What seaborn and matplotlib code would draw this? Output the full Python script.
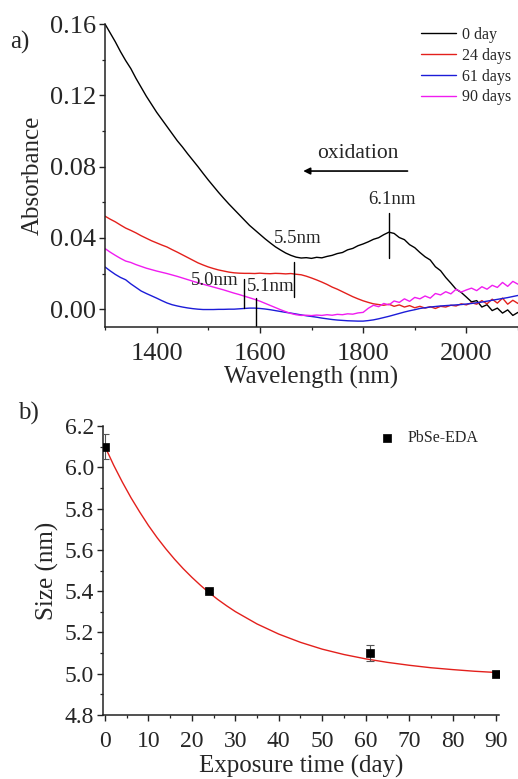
import numpy as np
import pandas as pd
import matplotlib
matplotlib.use("Agg")
import matplotlib.pyplot as plt
from matplotlib.ticker import MultipleLocator
import seaborn as sns

# absorbance spectra, one value every 10 nm from 1300 to 2100 nm
wavelength = list(range(1300, 2101, 10))

abs_0day = [
    .1600, .1550, .1500, .1445, .1395, .1350, .1295, .1245, .1195, .1150,
    .1105, .1065, .1025, .0985, .0945, .0910, .0872, .0836, .0800, .0762,
    .0725, .0690, .0655, .0622, .0590, .0560, .0530, .0500, .0470, .0445,
    .0420, .0395, .0372, .0350, .0332, .0315, .0302, .0292, .0287, .0289,
    .0285, .0291, .0288, .0296, .0302, .0312, .0318, .0333, .0341, .0356,
    .0366, .0378, .0392, .0401, .0418, .0432, .0425, .0402, .0390, .0362,
    .0345, .0318, .0294, .0276, .0238, .0216, .0178, .0146, .0112, .0094,
    .0068, .0041, .0048, .0012, .0025, -.0008, .0006, -.0022, -.0004, -.0035,
    -.0018]
abs_24days = [
    .0522, .0505, .0490, .0472, .0455, .0442, .0428, .0412, .0398, .0384,
    .0372, .0360, .0349, .0334, .0320, .0305, .0290, .0275, .0260, .0248,
    .0237, .0228, .0220, .0214, .0208, .0204, .0202, .0201, .0201, .0200,
    .0202, .0200, .0199, .0201, .0200, .0198, .0200, .0196, .0193, .0185,
    .0175, .0164, .0152, .0139, .0124, .0112, .0098, .0084, .0070, .0058,
    .0047, .0038, .0030, .0026, .0022, .0028, .0016, .0024, .0012, .0020,
    .0008, .0016, .0006, .0014, .0004, .0016, .0012, .0022, .0018, .0030,
    .0024, .0036, .0028, .0048, .0030, .0056, .0034, .0062, .0028, .0050,
    .0032]
abs_61days = [
    .0237, .0215, .0195, .0178, .0165, .0142, .0122, .0102, .0088, .0075,
    .0062, .0048, .0035, .0025, .0018, .0012, .0007, .0003, .0000, -.0002,
    -.0002, -.0002, -.0001, -.0001, .0000, .0000, .0002, .0004, .0006, .0006,
    .0004, .0001, -.0003, -.0008, -.0013, -.0018, -.0022, -.0027, -.0032, -.0037,
    -.0041, -.0045, -.0050, -.0054, -.0058, -.0061, -.0063, -.0065, -.0066, -.0067,
    -.0067, -.0064, -.0060, -.0054, -.0047, -.0040, -.0032, -.0024, -.0016, -.0009,
    -.0003, .0004, .0008, .0012, .0015, .0018, .0020, .0022, .0024, .0026,
    .0029, .0032, .0036, .0040, .0045, .0050, .0055, .0060, .0065, .0071,
    .0077]
abs_90days = [
    .0340, .0320, .0302, .0285, .0270, .0262, .0250, .0240, .0230, .0222,
    .0214, .0207, .0200, .0192, .0184, .0175, .0166, .0157, .0148, .0140,
    .0132, .0124, .0116, .0108, .0099, .0090, .0082, .0073, .0064, .0055,
    .0045, .0033, .0021, .0009, -.0003, -.0014, -.0024, -.0031, -.0035, -.0034,
    -.0036, -.0033, -.0035, -.0031, -.0034, -.0029, -.0031, -.0026, -.0028, -.0021,
    -.0018, .0005, .0022, .0014, .0032, .0024, .0046, .0038, .0058, .0044,
    .0066, .0058, .0074, .0062, .0088, .0080, .0098, .0086, .0112, .0096,
    .0108, .0118, .0104, .0126, .0112, .0134, .0122, .0150, .0128, .0156,
    .0140]

series_labels = ["0 day", "24 days", "61 days", "90 days"]
series_colors = ["black", "#e3201c", "#1c1cd8", "#f01cf0"]

# size markers on the spectra
peak_labels = ["6.1nm", "5.5nm", "5.0nm", "5.1nm"]
peak_wl = [1850, 1667, 1570, 1593]
peak_lo = [0.0286, 0.0069, 0.0005, -0.0100]
peak_hi = [0.0539, 0.0265, 0.0168, 0.0060]
peak_tx = [1855, 1673, 1513, 1620]
peak_ty = [0.0617, 0.0398, 0.0163, 0.0129]

# panel b
days = [0, 24, 61, 90]
size_nm = [6.10, 5.40, 5.10, 5.00]
size_err = [0.06, 0.01, 0.04, 0.01]
fit_days = [0, 2, 4, 6, 8, 10, 12, 14, 16, 18, 20, 22, 24, 26, 28, 30,
            35, 40, 45, 50, 55, 60, 65, 70, 75, 80, 85, 90]
fit_size = [6.100, 6.010, 5.928, 5.852, 5.783, 5.718, 5.659, 5.605, 5.555, 5.509,
            5.467, 5.428, 5.392, 5.359, 5.329, 5.301,
            5.241, 5.192, 5.152, 5.119, 5.093, 5.072, 5.055, 5.041, 5.029, 5.020,
            5.012, 5.006]

sns.set_theme(style="ticks")
plt.rcParams["font.family"] = ["Liberation Serif", "DejaVu Serif"]

spec = pd.DataFrame({
    "wl": wavelength * 4,
    "A": abs_0day + abs_24days + abs_61days + abs_90days,
    "sample": sum([[s] * len(wavelength) for s in series_labels], []),
})

fig = plt.figure(figsize=(5.18, 7.79), dpi=100)
ax1 = fig.add_axes([105 / 518, 1 - 327 / 779, 413 / 518, 303 / 779])
ax2 = fig.add_axes([103 / 518, 1 - 715 / 779, 396 / 518, 289 / 779])

# ---- panel a
sns.lineplot(data=spec, x="wl", y="A", hue="sample", hue_order=series_labels,
             palette=series_colors, linewidth=1.0, ax=ax1, legend=True)
handles, labels = ax1.get_legend_handles_labels()
ax1.legend(handles, labels, loc="upper left", bbox_to_anchor=(0.765, 0.99),
           frameon=False, fontsize=11.5, handlelength=2.2, handletextpad=0.35,
           labelspacing=0.3, borderpad=0, borderaxespad=0)

for lab, xw, lo, hi, tx, ty in zip(peak_labels, peak_wl, peak_lo, peak_hi, peak_tx, peak_ty):
    ax1.plot([xw, xw], [lo, hi], color="black", lw=1.0)
    ax1.text(tx, ty, lab, ha="center", va="center", fontsize=13.5)

ax1.annotate("", xy=(1684, 0.0775), xytext=(1886, 0.0775),
             arrowprops=dict(arrowstyle="-|>", color="black", lw=1.2,
                             mutation_scale=10, shrinkA=0, shrinkB=0))
ax1.text(1789, 0.0876, "oxidation", ha="center", va="center", fontsize=15.5)

ax1.set_xlim(1300, 2100)
ax1.set_ylim(-0.01, 0.16)
ax1.xaxis.set_major_locator(MultipleLocator(200))
ax1.xaxis.set_minor_locator(MultipleLocator(100))
ax1.yaxis.set_major_locator(MultipleLocator(0.04))
ax1.yaxis.set_minor_locator(MultipleLocator(0.02))
ax1.yaxis.set_major_formatter(matplotlib.ticker.FormatStrFormatter("%.2f"))
ax1.set_xlabel("Wavelength (nm)", fontsize=18, labelpad=1)
ax1.set_ylabel("Absorbance", fontsize=18, labelpad=4)

# ---- panel b
sns.lineplot(x=fit_days, y=fit_size, color="#e3201c", linewidth=1.0, ax=ax2)
ax2.errorbar(days, size_nm, yerr=size_err, fmt="none", ecolor="#555555",
             elinewidth=0.8, capsize=3, capthick=0.8, zorder=3)
sns.scatterplot(x=days, y=size_nm, marker="s", color="black", s=40,
                edgecolor="black", linewidth=0.5, ax=ax2, zorder=4,
                label="PbSe-EDA")
ax2.legend(loc="center left", bbox_to_anchor=(0.677, 0.958), frameon=False,
           fontsize=11.5, handletextpad=0.3, borderpad=0, borderaxespad=0,
           markerscale=0.8)

ax2.set_xlim(-0.46, 90.7)
ax2.set_ylim(4.8, 6.2)
ax2.xaxis.set_major_locator(MultipleLocator(10))
ax2.xaxis.set_minor_locator(MultipleLocator(5))
ax2.yaxis.set_major_locator(MultipleLocator(0.2))
ax2.yaxis.set_minor_locator(MultipleLocator(0.1))
ax2.yaxis.set_major_formatter(matplotlib.ticker.FormatStrFormatter("%.1f"))
ax2.set_xlabel("Exposure time (day)", fontsize=18, labelpad=2)
ax2.set_ylabel("Size (nm)", fontsize=18, labelpad=4)

for ax, fs in [(ax1, 19), (ax2, 17)]:
    sns.despine(ax=ax)
    for s in ["left", "bottom"]:
        ax.spines[s].set_linewidth(1.1)
        ax.spines[s].set_color("#222222")
    ax.tick_params(which="major", direction="out", length=4.5, width=1.0,
                   labelsize=fs, color="#222222", pad=2)
    ax.tick_params(which="minor", direction="out", length=2.5, width=0.9,
                   color="#222222")
    ax.tick_params(axis="x", which="major", pad=7)

fig.text(20 / 518, 1 - 42 / 779, "a)", fontsize=18, ha="center", va="center")
fig.text(28 / 518, 1 - 413 / 779, "b)", fontsize=18, ha="center", va="center")

fig.savefig("out.png", dpi=100)
